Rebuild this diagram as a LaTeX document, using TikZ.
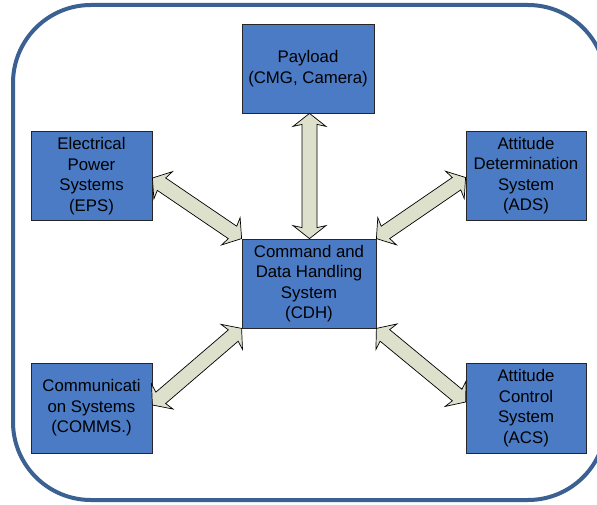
\documentclass[tikz,border=0pt]{standalone}
\usepackage{fontspec}
\setmainfont{Liberation Sans}
\usetikzlibrary{calc}

\definecolor{framecol}{HTML}{3B6092}
\definecolor{boxfill}{HTML}{4A7BC4}
\definecolor{arrowfill}{HTML}{DDE1CC}

% double-headed block arrow between two named points
\newcommand\blockarrow[2]{%
  \draw[blockarr]
    (#1)
    -- ($(#1)!13pt!(#2)!16.5pt!90:(#2)$)
    -- ($(#1)!11pt!(#2)!7.5pt!90:(#2)$)
    -- ($(#2)!11pt!(#1)!7.5pt!-90:(#1)$)
    -- ($(#2)!13pt!(#1)!16.5pt!-90:(#1)$)
    -- (#2)
    -- ($(#2)!13pt!(#1)!16.5pt!90:(#1)$)
    -- ($(#2)!11pt!(#1)!7.5pt!90:(#1)$)
    -- ($(#1)!11pt!(#2)!7.5pt!-90:(#2)$)
    -- ($(#1)!13pt!(#2)!16.5pt!-90:(#2)$)
    -- cycle;}

\begin{document}
\begin{tikzpicture}[x=1pt,y=-1pt,
  subsys/.style={rectangle, draw=black!85, line width=0.8pt, fill=boxfill,
    align=center, inner sep=0pt, text=black,
    font=\fontsize{16.8}{20.5}\selectfont},
  blockarr/.style={draw=black, line width=0.7pt, fill=arrowfill, line join=miter}]
  \useasboundingbox (0,0) rectangle (597,505);
  \clip (0,0) rectangle (597,505);

  % outer frame
  \draw[framecol, line width=4pt, rounded corners=78pt] (13,5) rectangle (606,500);

  % subsystems
  \node[subsys, minimum width=132pt, minimum height=89pt] (payload) at (308,68.5)
    {Payload\\(CMG, Camera)};
  \node[subsys, minimum width=121pt, minimum height=89pt] (eps) at (91.5,176)
    {Electrical\\Power\\Systems\\(EPS)};
  \node[subsys, minimum width=134pt, minimum height=89pt] (cdh) at (309,283.5)
    {Command and\\Data Handling\\System\\(CDH)};
  \node[subsys, minimum width=120pt, minimum height=89pt] (ads) at (526,175.5)
    {Attitude\\Determination\\System\\(ADS)};
  \node[subsys, minimum width=121pt, minimum height=90pt] (comms) at (91.5,408)
    {Communicati\\on Systems\\(COMMS.)};
  \node[subsys, minimum width=120pt, minimum height=90pt] (acs) at (526,408)
    {Attitude\\Control\\System\\(ACS)};

  % arrow end points
  \coordinate (pl-s) at ($(payload.south)+(1.5,0)$);
  \coordinate (cdh-n) at ($(cdh.north)+(0.5,0)$);
  \coordinate (eps-e) at ($(eps.east)+(0,2)$);
  \coordinate (ads-w) at ($(ads.west)+(0,2)$);
  \coordinate (comms-e) at ($(comms.east)+(0,-3)$);
  \coordinate (acs-w) at ($(acs.west)+(0,-6)$);

  % data links
  \blockarrow{pl-s}{cdh-n}
  \blockarrow{eps-e}{cdh.north west}
  \blockarrow{ads-w}{cdh.north east}
  \blockarrow{comms-e}{cdh.south west}
  \blockarrow{acs-w}{cdh.south east}
\end{tikzpicture}
\end{document}
